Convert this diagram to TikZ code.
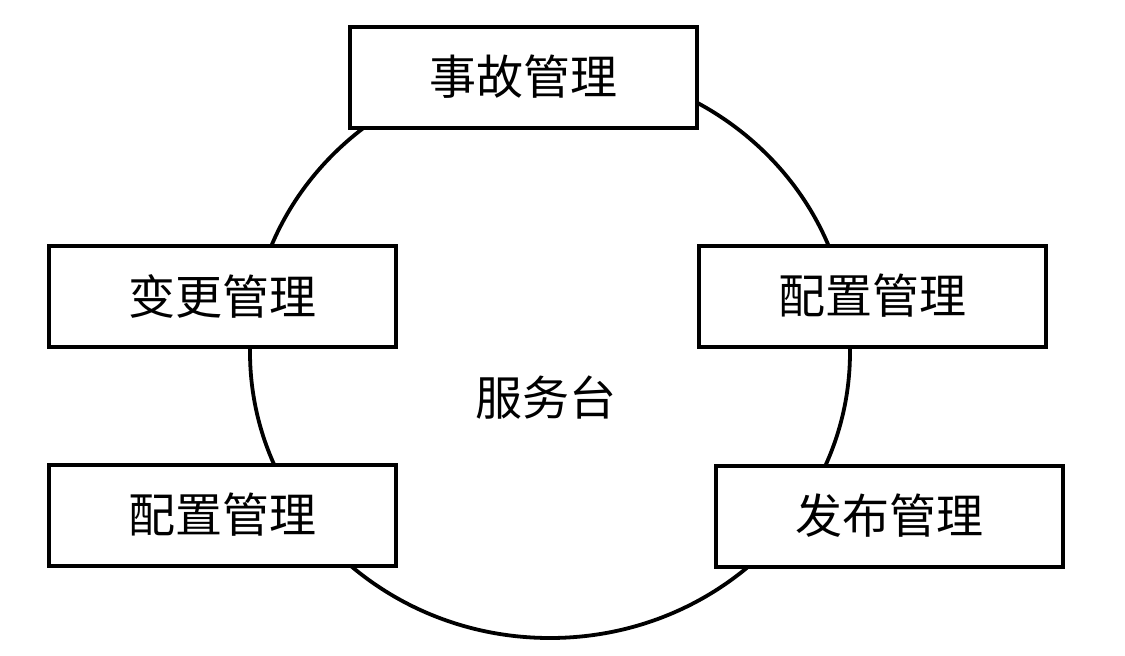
\documentclass[tikz,border=0pt]{standalone}
\usepackage{fontspec}
\usepackage{tikz}
\newfontfamily\cjk{Noto Sans CJK SC}
\newcommand{\lbl}{\cjk\fontsize{47}{47}\selectfont}

\begin{document}
\begin{tikzpicture}[x=1pt,y=-1pt,
  mgmt/.style={draw, line width=4pt, fill=white, minimum width=347pt, minimum height=101pt, inner sep=0pt, font=\lbl}]
\useasboundingbox (0,0) rectangle (1125,656);
%RING
\draw[line width=3.8pt] (550,352) ellipse [x radius=300, y radius=286];
\node[font=\lbl] (desk) at (546,398) {服务台};
%BOXES
\node[mgmt] (incident) at (523.5,77) {事故管理};
\node[mgmt] (change) at (222.5,296) {变更管理};
\node[mgmt] (configR) at (872.5,296) {配置管理};
\node[mgmt] (configL) at (222.5,515) {配置管理};
\node[mgmt] (release) at (889,516) {发布管理};
\end{tikzpicture}
\end{document}
